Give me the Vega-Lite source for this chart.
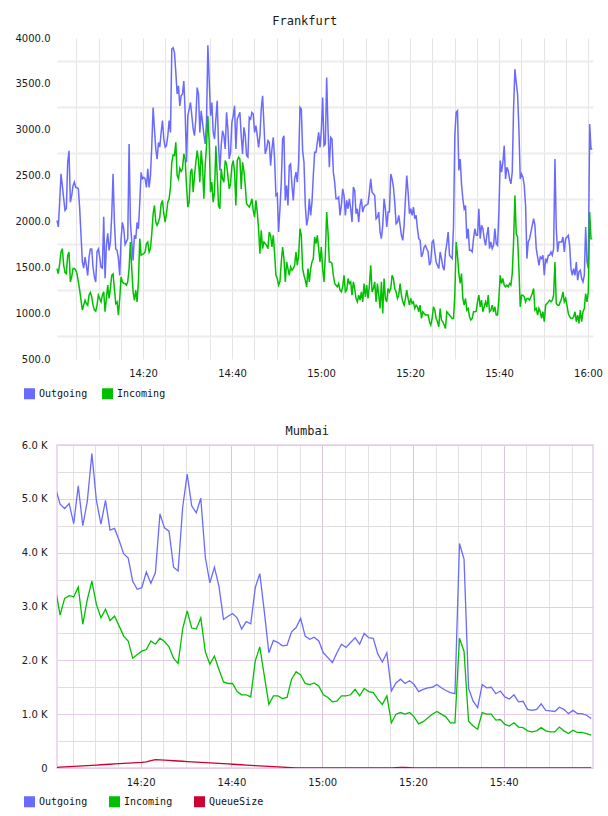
{
  "$schema": "https://vega.github.io/schema/vega-lite/v6.json",
  "background": "white",
  "padding": {"left": 15, "top": 15, "right": 7, "bottom": 5},
  "columns": 1,
  "spacing": 11,
  "resolve": {"scale": {"color": "independent"}},
  "config": {
    "view": {"stroke": null},
    "axis": {"labelFont": "DejaVu Sans", "labelFontSize": 10, "labelColor": "#1a1a1a", "ticks": false, "domain": false, "labelFlush": false, "labelOverlap": false},
    "legend": {"labelFont": "DejaVu Sans Mono", "labelFontSize": 10, "labelColor": "#111111", "symbolType": "square", "symbolSize": 4, "symbolStrokeWidth": 9, "labelOffset": 4},
    "title": {"font": "DejaVu Sans Mono", "fontSize": 12, "fontWeight": "normal", "color": "#1a1a1a", "anchor": "middle"}
  },
  "concat": [
    {
      "title": {"text": "Frankfurt", "frame": "bounds", "dx": -4, "offset": 5},
      "width": 536,
      "height": 321,
      "data": {
        "format": {"parse": {"t": "utc:'%H:%M:%S'"}},
        "values": [
          {"t":"14:00:40","Outgoing":2010,"Incoming":1486},{"t":"14:00:58","Outgoing":1940,"Incoming":1430},{"t":"14:01:16","Outgoing":2210,"Incoming":1540},{"t":"14:01:34","Outgoing":2520,"Incoming":1667},{"t":"14:01:52","Outgoing":2390,"Incoming":1703},{"t":"14:02:10","Outgoing":2250,"Incoming":1522},{"t":"14:02:28","Outgoing":2120,"Incoming":1442},{"t":"14:02:46","Outgoing":2140,"Incoming":1430},{"t":"14:03:04","Outgoing":2645,"Incoming":1630},{"t":"14:03:22","Outgoing":2770,"Incoming":1667},
          {"t":"14:03:40","Outgoing":2210,"Incoming":1341},{"t":"14:03:58","Outgoing":2280,"Incoming":1395},{"t":"14:04:16","Outgoing":2390,"Incoming":1486},{"t":"14:04:34","Outgoing":2430,"Incoming":1486},{"t":"14:04:52","Outgoing":2370,"Incoming":1468},{"t":"14:05:10","Outgoing":2370,"Incoming":1430},{"t":"14:05:28","Outgoing":2355,"Incoming":1341},{"t":"14:05:46","Outgoing":2140,"Incoming":1250},{"t":"14:06:04","Outgoing":1850,"Incoming":1140},{"t":"14:06:22","Outgoing":1560,"Incoming":1033},
          {"t":"14:06:40","Outgoing":1490,"Incoming":1087},{"t":"14:06:58","Outgoing":1610,"Incoming":1140},{"t":"14:07:16","Outgoing":1520,"Incoming":1105},{"t":"14:07:34","Outgoing":1410,"Incoming":1087},{"t":"14:07:52","Outgoing":1610,"Incoming":1196},{"t":"14:08:10","Outgoing":1700,"Incoming":1225},{"t":"14:08:28","Outgoing":1700,"Incoming":1178},{"t":"14:08:46","Outgoing":1500,"Incoming":1087},{"t":"14:09:04","Outgoing":1395,"Incoming":1033},{"t":"14:09:22","Outgoing":1340,"Incoming":1022},
          {"t":"14:09:40","Outgoing":1670,"Incoming":1087},{"t":"14:09:58","Outgoing":1700,"Incoming":1196},{"t":"14:10:16","Outgoing":1610,"Incoming":1160},{"t":"14:10:34","Outgoing":1500,"Incoming":1123},{"t":"14:10:52","Outgoing":1490,"Incoming":1196},{"t":"14:11:10","Outgoing":2050,"Incoming":1232},{"t":"14:11:28","Outgoing":1380,"Incoming":1015},{"t":"14:11:46","Outgoing":1740,"Incoming":1160},{"t":"14:12:04","Outgoing":1870,"Incoming":1305},{"t":"14:12:22","Outgoing":1685,"Incoming":1160},
          {"t":"14:12:40","Outgoing":1780,"Incoming":1268},{"t":"14:12:58","Outgoing":2065,"Incoming":1413},{"t":"14:13:16","Outgoing":2520,"Incoming":1428},{"t":"14:13:34","Outgoing":1990,"Incoming":1268},{"t":"14:13:52","Outgoing":1700,"Incoming":1105},{"t":"14:14:10","Outgoing":1685,"Incoming":1123},{"t":"14:14:28","Outgoing":1595,"Incoming":979},{"t":"14:14:46","Outgoing":1410,"Incoming":1160},{"t":"14:15:04","Outgoing":1810,"Incoming":1395},{"t":"14:15:22","Outgoing":1990,"Incoming":1341},
          {"t":"14:15:40","Outgoing":1920,"Incoming":1323},{"t":"14:15:58","Outgoing":1750,"Incoming":1323},{"t":"14:16:16","Outgoing":1780,"Incoming":1305},{"t":"14:16:34","Outgoing":1810,"Incoming":1341},{"t":"14:16:52","Outgoing":2845,"Incoming":1486},{"t":"14:17:10","Outgoing":1990,"Incoming":1776},{"t":"14:17:28","Outgoing":1780,"Incoming":1486},{"t":"14:17:46","Outgoing":1575,"Incoming":1232},{"t":"14:18:04","Outgoing":1850,"Incoming":1140},{"t":"14:18:22","Outgoing":1810,"Incoming":1250},
          {"t":"14:18:40","Outgoing":1990,"Incoming":1123},{"t":"14:18:58","Outgoing":1920,"Incoming":1341},{"t":"14:19:16","Outgoing":2210,"Incoming":1812},{"t":"14:19:34","Outgoing":2535,"Incoming":1630},{"t":"14:19:52","Outgoing":2465,"Incoming":1642},{"t":"14:20:10","Outgoing":2480,"Incoming":1649},{"t":"14:20:28","Outgoing":2465,"Incoming":1667},{"t":"14:20:46","Outgoing":2370,"Incoming":1758},{"t":"14:21:04","Outgoing":2575,"Incoming":1776},{"t":"14:21:22","Outgoing":2370,"Incoming":1667},
          {"t":"14:21:40","Outgoing":2500,"Incoming":1703},{"t":"14:21:58","Outgoing":2825,"Incoming":1866},{"t":"14:22:16","Outgoing":3243,"Incoming":2084},{"t":"14:22:34","Outgoing":3008,"Incoming":2174},{"t":"14:22:52","Outgoing":2790,"Incoming":1993},{"t":"14:23:10","Outgoing":2680,"Incoming":1957},{"t":"14:23:28","Outgoing":2860,"Incoming":1993},{"t":"14:23:46","Outgoing":2810,"Incoming":2047},{"t":"14:24:04","Outgoing":2970,"Incoming":2192},{"t":"14:24:22","Outgoing":3100,"Incoming":2229},
          {"t":"14:24:40","Outgoing":2900,"Incoming":2084},{"t":"14:24:58","Outgoing":2810,"Incoming":1993},{"t":"14:25:16","Outgoing":2825,"Incoming":2084},{"t":"14:25:34","Outgoing":2935,"Incoming":2210},{"t":"14:25:52","Outgoing":3100,"Incoming":2247},{"t":"14:26:10","Outgoing":2970,"Incoming":2374},{"t":"14:26:28","Outgoing":3880,"Incoming":2645},{"t":"14:26:46","Outgoing":3895,"Incoming":2725},{"t":"14:27:04","Outgoing":3840,"Incoming":2718},{"t":"14:27:22","Outgoing":3625,"Incoming":2863},
          {"t":"14:27:40","Outgoing":3390,"Incoming":2500},{"t":"14:27:58","Outgoing":3480,"Incoming":2464},{"t":"14:28:16","Outgoing":3260,"Incoming":2580},{"t":"14:28:34","Outgoing":3370,"Incoming":2544},{"t":"14:28:52","Outgoing":3390,"Incoming":2573},{"t":"14:29:10","Outgoing":3530,"Incoming":2736},{"t":"14:29:28","Outgoing":3190,"Incoming":2682},{"t":"14:29:46","Outgoing":2645,"Incoming":2392},{"t":"14:30:04","Outgoing":3150,"Incoming":2156},{"t":"14:30:22","Outgoing":3225,"Incoming":2210},
          {"t":"14:30:40","Outgoing":3297,"Incoming":2537},{"t":"14:30:58","Outgoing":3152,"Incoming":2573},{"t":"14:31:16","Outgoing":3008,"Incoming":2319},{"t":"14:31:34","Outgoing":2935,"Incoming":2500},{"t":"14:31:52","Outgoing":3116,"Incoming":2645},{"t":"14:32:10","Outgoing":3460,"Incoming":2772},{"t":"14:32:28","Outgoing":3388,"Incoming":2663},{"t":"14:32:46","Outgoing":2971,"Incoming":2428},{"t":"14:33:04","Outgoing":3207,"Incoming":2772},{"t":"14:33:22","Outgoing":3080,"Incoming":2609},
          {"t":"14:33:40","Outgoing":2953,"Incoming":2247},{"t":"14:33:58","Outgoing":2844,"Incoming":2609},{"t":"14:34:16","Outgoing":3080,"Incoming":2826},{"t":"14:34:34","Outgoing":3920,"Incoming":3152},{"t":"14:34:52","Outgoing":3551,"Incoming":2863},{"t":"14:35:10","Outgoing":3152,"Incoming":2319},{"t":"14:35:28","Outgoing":3297,"Incoming":2428},{"t":"14:35:46","Outgoing":2971,"Incoming":2210},{"t":"14:36:04","Outgoing":2899,"Incoming":2319},{"t":"14:36:22","Outgoing":3116,"Incoming":2826},
          {"t":"14:36:40","Outgoing":3315,"Incoming":2500},{"t":"14:36:58","Outgoing":2826,"Incoming":2174},{"t":"14:37:16","Outgoing":2555,"Incoming":2138},{"t":"14:37:34","Outgoing":2826,"Incoming":2573},{"t":"14:37:52","Outgoing":2989,"Incoming":2464},{"t":"14:38:10","Outgoing":2935,"Incoming":2428},{"t":"14:38:28","Outgoing":2790,"Incoming":2663},{"t":"14:38:46","Outgoing":3189,"Incoming":2627},{"t":"14:39:04","Outgoing":3008,"Incoming":2500},{"t":"14:39:22","Outgoing":2681,"Incoming":2355},
          {"t":"14:39:40","Outgoing":2754,"Incoming":2410},{"t":"14:39:58","Outgoing":3080,"Incoming":2609},{"t":"14:40:16","Outgoing":3152,"Incoming":2663},{"t":"14:40:34","Outgoing":3261,"Incoming":2537},{"t":"14:40:52","Outgoing":2790,"Incoming":2174},{"t":"14:41:10","Outgoing":3116,"Incoming":2663},{"t":"14:41:28","Outgoing":3152,"Incoming":2700},{"t":"14:41:46","Outgoing":3189,"Incoming":2681},{"t":"14:42:04","Outgoing":2935,"Incoming":2355},{"t":"14:42:22","Outgoing":2736,"Incoming":2645},
          {"t":"14:42:40","Outgoing":3026,"Incoming":2555},{"t":"14:42:58","Outgoing":2935,"Incoming":2392},{"t":"14:43:16","Outgoing":2718,"Incoming":2192},{"t":"14:43:34","Outgoing":2700,"Incoming":2174},{"t":"14:43:52","Outgoing":3134,"Incoming":2156},{"t":"14:44:10","Outgoing":3116,"Incoming":2192},{"t":"14:44:28","Outgoing":3189,"Incoming":2247},{"t":"14:44:46","Outgoing":3171,"Incoming":2120},{"t":"14:45:04","Outgoing":2971,"Incoming":2047},{"t":"14:45:22","Outgoing":3044,"Incoming":2229},
          {"t":"14:45:40","Outgoing":2935,"Incoming":2102},{"t":"14:45:58","Outgoing":2808,"Incoming":1921},{"t":"14:46:16","Outgoing":2935,"Incoming":1649},{"t":"14:46:34","Outgoing":3225,"Incoming":1902},{"t":"14:46:52","Outgoing":3370,"Incoming":1703},{"t":"14:47:10","Outgoing":3062,"Incoming":1776},{"t":"14:47:28","Outgoing":2736,"Incoming":1758},{"t":"14:47:46","Outgoing":2790,"Incoming":1739},{"t":"14:48:04","Outgoing":2881,"Incoming":1703},{"t":"14:48:22","Outgoing":2863,"Incoming":1884},
          {"t":"14:48:40","Outgoing":2609,"Incoming":1848},{"t":"14:48:58","Outgoing":2790,"Incoming":1721},{"t":"14:49:16","Outgoing":2917,"Incoming":1848},{"t":"14:49:34","Outgoing":2681,"Incoming":1649},{"t":"14:49:52","Outgoing":2283,"Incoming":1413},{"t":"14:50:10","Outgoing":2301,"Incoming":1377},{"t":"14:50:28","Outgoing":1884,"Incoming":1305},{"t":"14:50:46","Outgoing":2138,"Incoming":1341},{"t":"14:51:04","Outgoing":2428,"Incoming":1558},{"t":"14:51:22","Outgoing":2899,"Incoming":1721},
          {"t":"14:51:40","Outgoing":2935,"Incoming":1595},{"t":"14:51:58","Outgoing":2229,"Incoming":1341},{"t":"14:52:16","Outgoing":2392,"Incoming":1558},{"t":"14:52:34","Outgoing":2174,"Incoming":1486},{"t":"14:52:52","Outgoing":2609,"Incoming":1413},{"t":"14:53:10","Outgoing":2627,"Incoming":1504},{"t":"14:53:28","Outgoing":2392,"Incoming":1468},{"t":"14:53:46","Outgoing":2229,"Incoming":1486},{"t":"14:54:04","Outgoing":2464,"Incoming":1522},{"t":"14:54:22","Outgoing":2537,"Incoming":1667},
          {"t":"14:54:40","Outgoing":2428,"Incoming":1522},{"t":"14:54:58","Outgoing":2645,"Incoming":1631},{"t":"14:55:16","Outgoing":3243,"Incoming":1921},{"t":"14:55:34","Outgoing":3225,"Incoming":1848},{"t":"14:55:52","Outgoing":2772,"Incoming":1486},{"t":"14:56:10","Outgoing":2645,"Incoming":1413},{"t":"14:56:28","Outgoing":2174,"Incoming":1359},{"t":"14:56:46","Outgoing":1957,"Incoming":1287},{"t":"14:57:04","Outgoing":2029,"Incoming":1486},{"t":"14:57:22","Outgoing":2247,"Incoming":1341},
          {"t":"14:57:40","Outgoing":2066,"Incoming":1486},{"t":"14:57:58","Outgoing":2210,"Incoming":1558},{"t":"14:58:16","Outgoing":2500,"Incoming":1595},{"t":"14:58:34","Outgoing":2754,"Incoming":1830},{"t":"14:58:52","Outgoing":2754,"Incoming":1758},{"t":"14:59:10","Outgoing":2863,"Incoming":1848},{"t":"14:59:28","Outgoing":2971,"Incoming":1703},{"t":"14:59:46","Outgoing":2808,"Incoming":1558},{"t":"15:00:04","Outgoing":2989,"Incoming":1721},{"t":"15:00:22","Outgoing":3352,"Incoming":1486},
          {"t":"15:00:40","Outgoing":2826,"Incoming":1341},{"t":"15:00:58","Outgoing":2844,"Incoming":1631},{"t":"15:01:16","Outgoing":3569,"Incoming":2102},{"t":"15:01:34","Outgoing":3008,"Incoming":1884},{"t":"15:01:52","Outgoing":2591,"Incoming":1558},{"t":"15:02:10","Outgoing":2917,"Incoming":1558},{"t":"15:02:28","Outgoing":2899,"Incoming":1540},{"t":"15:02:46","Outgoing":2537,"Incoming":1413},{"t":"15:03:04","Outgoing":2428,"Incoming":1323},{"t":"15:03:22","Outgoing":2247,"Incoming":1305},
          {"t":"15:03:40","Outgoing":2247,"Incoming":1287},{"t":"15:03:58","Outgoing":2265,"Incoming":1323},{"t":"15:04:16","Outgoing":2066,"Incoming":1250},{"t":"15:04:34","Outgoing":2174,"Incoming":1232},{"t":"15:04:52","Outgoing":2355,"Incoming":1287},{"t":"15:05:10","Outgoing":2283,"Incoming":1413},{"t":"15:05:28","Outgoing":2066,"Incoming":1232},{"t":"15:05:46","Outgoing":2229,"Incoming":1250},{"t":"15:06:04","Outgoing":2138,"Incoming":1377},{"t":"15:06:22","Outgoing":2247,"Incoming":1323},
          {"t":"15:06:40","Outgoing":2138,"Incoming":1341},{"t":"15:06:58","Outgoing":1993,"Incoming":1196},{"t":"15:07:16","Outgoing":2374,"Incoming":1341},{"t":"15:07:34","Outgoing":2337,"Incoming":1268},{"t":"15:07:52","Outgoing":2084,"Incoming":1160},{"t":"15:08:10","Outgoing":2138,"Incoming":1123},{"t":"15:08:28","Outgoing":1993,"Incoming":1196},{"t":"15:08:46","Outgoing":2174,"Incoming":1142},{"t":"15:09:04","Outgoing":2247,"Incoming":1232},{"t":"15:09:22","Outgoing":2102,"Incoming":1123},
          {"t":"15:09:40","Outgoing":2156,"Incoming":1323},{"t":"15:09:58","Outgoing":2174,"Incoming":1178},{"t":"15:10:16","Outgoing":2181,"Incoming":1305},{"t":"15:10:34","Outgoing":2192,"Incoming":1160},{"t":"15:10:52","Outgoing":2319,"Incoming":1305},{"t":"15:11:10","Outgoing":2464,"Incoming":1522},{"t":"15:11:28","Outgoing":2319,"Incoming":1232},{"t":"15:11:46","Outgoing":2301,"Incoming":1268},{"t":"15:12:04","Outgoing":2283,"Incoming":1341},{"t":"15:12:22","Outgoing":2029,"Incoming":1123},
          {"t":"15:12:40","Outgoing":2047,"Incoming":1323},{"t":"15:12:58","Outgoing":2102,"Incoming":1196},{"t":"15:13:16","Outgoing":1884,"Incoming":1051},{"t":"15:13:34","Outgoing":1812,"Incoming":1341},{"t":"15:13:52","Outgoing":1957,"Incoming":997},{"t":"15:14:10","Outgoing":2247,"Incoming":1377},{"t":"15:14:28","Outgoing":2138,"Incoming":1160},{"t":"15:14:46","Outgoing":1939,"Incoming":1123},{"t":"15:15:04","Outgoing":2102,"Incoming":1268},{"t":"15:15:22","Outgoing":2102,"Incoming":1232},
          {"t":"15:15:40","Outgoing":2518,"Incoming":1268},{"t":"15:15:58","Outgoing":2464,"Incoming":1413},{"t":"15:16:16","Outgoing":2374,"Incoming":1377},{"t":"15:16:34","Outgoing":2210,"Incoming":1268},{"t":"15:16:52","Outgoing":1975,"Incoming":1232},{"t":"15:17:10","Outgoing":1993,"Incoming":1160},{"t":"15:17:28","Outgoing":2066,"Incoming":1196},{"t":"15:17:46","Outgoing":1957,"Incoming":1323},{"t":"15:18:04","Outgoing":1848,"Incoming":1196},{"t":"15:18:22","Outgoing":1794,"Incoming":1123},
          {"t":"15:18:40","Outgoing":1957,"Incoming":1087},{"t":"15:18:58","Outgoing":2247,"Incoming":1160},{"t":"15:19:16","Outgoing":2500,"Incoming":1250},{"t":"15:19:34","Outgoing":2319,"Incoming":1160},{"t":"15:19:52","Outgoing":2084,"Incoming":1087},{"t":"15:20:10","Outgoing":2138,"Incoming":1160},{"t":"15:20:28","Outgoing":2066,"Incoming":1105},{"t":"15:20:46","Outgoing":2156,"Incoming":1123},{"t":"15:21:04","Outgoing":2029,"Incoming":1051},{"t":"15:21:22","Outgoing":2066,"Incoming":1087},
          {"t":"15:21:40","Outgoing":1921,"Incoming":1069},{"t":"15:21:58","Outgoing":1812,"Incoming":1015},{"t":"15:22:16","Outgoing":1794,"Incoming":1087},{"t":"15:22:34","Outgoing":1613,"Incoming":942},{"t":"15:22:52","Outgoing":1649,"Incoming":1015},{"t":"15:23:10","Outgoing":1721,"Incoming":997},{"t":"15:23:28","Outgoing":1739,"Incoming":979},{"t":"15:23:46","Outgoing":1703,"Incoming":979},{"t":"15:24:04","Outgoing":1667,"Incoming":979},{"t":"15:24:22","Outgoing":1522,"Incoming":906},
          {"t":"15:24:40","Outgoing":1558,"Incoming":870},{"t":"15:24:58","Outgoing":1776,"Incoming":942},{"t":"15:25:16","Outgoing":1794,"Incoming":1069},{"t":"15:25:34","Outgoing":1667,"Incoming":1033},{"t":"15:25:52","Outgoing":1558,"Incoming":942},{"t":"15:26:10","Outgoing":1522,"Incoming":906},{"t":"15:26:28","Outgoing":1486,"Incoming":852},{"t":"15:26:46","Outgoing":1667,"Incoming":1051},{"t":"15:27:04","Outgoing":1595,"Incoming":924},{"t":"15:27:22","Outgoing":1504,"Incoming":906},
          {"t":"15:27:40","Outgoing":1468,"Incoming":870},{"t":"15:27:58","Outgoing":1667,"Incoming":834},{"t":"15:28:16","Outgoing":1758,"Incoming":1015},{"t":"15:28:34","Outgoing":1884,"Incoming":997},{"t":"15:28:52","Outgoing":1631,"Incoming":979},{"t":"15:29:10","Outgoing":1613,"Incoming":961},{"t":"15:29:28","Outgoing":1595,"Incoming":942},{"t":"15:29:46","Outgoing":1939,"Incoming":942},{"t":"15:30:04","Outgoing":2935,"Incoming":1196},{"t":"15:30:22","Outgoing":3189,"Incoming":1776},
          {"t":"15:30:40","Outgoing":3207,"Incoming":1631},{"t":"15:30:58","Outgoing":2555,"Incoming":1431},{"t":"15:31:16","Outgoing":2681,"Incoming":1323},{"t":"15:31:34","Outgoing":2410,"Incoming":1431},{"t":"15:31:52","Outgoing":2247,"Incoming":1160},{"t":"15:32:10","Outgoing":2138,"Incoming":1087},{"t":"15:32:28","Outgoing":2174,"Incoming":1160},{"t":"15:32:46","Outgoing":1812,"Incoming":1033},{"t":"15:33:04","Outgoing":1921,"Incoming":1051},{"t":"15:33:22","Outgoing":1685,"Incoming":961},
          {"t":"15:33:40","Outgoing":1685,"Incoming":924},{"t":"15:33:58","Outgoing":1667,"Incoming":942},{"t":"15:34:16","Outgoing":1812,"Incoming":1015},{"t":"15:34:34","Outgoing":1921,"Incoming":1015},{"t":"15:34:52","Outgoing":1848,"Incoming":1022},{"t":"15:35:10","Outgoing":1848,"Incoming":1123},{"t":"15:35:28","Outgoing":2138,"Incoming":1196},{"t":"15:35:46","Outgoing":1812,"Incoming":1069},{"t":"15:36:04","Outgoing":1957,"Incoming":1142},{"t":"15:36:22","Outgoing":1921,"Incoming":1015},
          {"t":"15:36:40","Outgoing":1812,"Incoming":1069},{"t":"15:36:58","Outgoing":1739,"Incoming":1123},{"t":"15:37:16","Outgoing":1848,"Incoming":1069},{"t":"15:37:34","Outgoing":1939,"Incoming":1196},{"t":"15:37:52","Outgoing":1703,"Incoming":1015},{"t":"15:38:10","Outgoing":1776,"Incoming":1033},{"t":"15:38:28","Outgoing":1703,"Incoming":1087},{"t":"15:38:46","Outgoing":1739,"Incoming":1015},{"t":"15:39:04","Outgoing":1921,"Incoming":1069},{"t":"15:39:22","Outgoing":1758,"Incoming":979},
          {"t":"15:39:40","Outgoing":1739,"Incoming":979},{"t":"15:39:58","Outgoing":2102,"Incoming":1160},{"t":"15:40:16","Outgoing":2663,"Incoming":1413},{"t":"15:40:34","Outgoing":2537,"Incoming":1323},{"t":"15:40:52","Outgoing":2645,"Incoming":1377},{"t":"15:41:10","Outgoing":2826,"Incoming":1305},{"t":"15:41:28","Outgoing":2464,"Incoming":1287},{"t":"15:41:46","Outgoing":2591,"Incoming":1305},{"t":"15:42:04","Outgoing":2555,"Incoming":1287},{"t":"15:42:22","Outgoing":2464,"Incoming":1323},
          {"t":"15:42:40","Outgoing":2410,"Incoming":1305},{"t":"15:42:58","Outgoing":2537,"Incoming":1431},{"t":"15:43:16","Outgoing":3225,"Incoming":1776},{"t":"15:43:34","Outgoing":3660,"Incoming":2283},{"t":"15:43:52","Outgoing":3515,"Incoming":1866},{"t":"15:44:10","Outgoing":3388,"Incoming":1830},{"t":"15:44:28","Outgoing":3008,"Incoming":1486},{"t":"15:44:46","Outgoing":2464,"Incoming":1069},{"t":"15:45:04","Outgoing":2518,"Incoming":1196},{"t":"15:45:22","Outgoing":2482,"Incoming":1196},
          {"t":"15:45:40","Outgoing":2392,"Incoming":1178},{"t":"15:45:58","Outgoing":2174,"Incoming":1123},{"t":"15:46:16","Outgoing":1595,"Incoming":1160},{"t":"15:46:34","Outgoing":1776,"Incoming":1160},{"t":"15:46:52","Outgoing":1812,"Incoming":1142},{"t":"15:47:10","Outgoing":1884,"Incoming":1178},{"t":"15:47:28","Outgoing":1957,"Incoming":1214},{"t":"15:47:46","Outgoing":2029,"Incoming":1268},{"t":"15:48:04","Outgoing":1957,"Incoming":1033},{"t":"15:48:22","Outgoing":1703,"Incoming":1051},
          {"t":"15:48:40","Outgoing":1613,"Incoming":979},{"t":"15:48:58","Outgoing":1522,"Incoming":1051},{"t":"15:49:16","Outgoing":1613,"Incoming":1015},{"t":"15:49:34","Outgoing":1595,"Incoming":942},{"t":"15:49:52","Outgoing":1631,"Incoming":1015},{"t":"15:50:10","Outgoing":1413,"Incoming":906},{"t":"15:50:28","Outgoing":1595,"Incoming":1087},{"t":"15:50:46","Outgoing":1558,"Incoming":1105},{"t":"15:51:04","Outgoing":1631,"Incoming":1123},{"t":"15:51:22","Outgoing":1631,"Incoming":1142},
          {"t":"15:51:40","Outgoing":1667,"Incoming":1123},{"t":"15:51:58","Outgoing":1631,"Incoming":1142},{"t":"15:52:16","Outgoing":1703,"Incoming":1196},{"t":"15:52:34","Outgoing":2681,"Incoming":1558},{"t":"15:52:52","Outgoing":1921,"Incoming":1105},{"t":"15:53:10","Outgoing":1667,"Incoming":1087},{"t":"15:53:28","Outgoing":1776,"Incoming":1087},{"t":"15:53:46","Outgoing":1776,"Incoming":1123},{"t":"15:54:04","Outgoing":1776,"Incoming":1160},{"t":"15:54:22","Outgoing":1830,"Incoming":1232},
          {"t":"15:54:40","Outgoing":1667,"Incoming":1123},{"t":"15:54:58","Outgoing":1812,"Incoming":1160},{"t":"15:55:16","Outgoing":1830,"Incoming":1087},{"t":"15:55:34","Outgoing":1848,"Incoming":997},{"t":"15:55:52","Outgoing":1739,"Incoming":961},{"t":"15:56:10","Outgoing":1486,"Incoming":942},{"t":"15:56:28","Outgoing":1413,"Incoming":942},{"t":"15:56:46","Outgoing":1486,"Incoming":961},{"t":"15:57:04","Outgoing":1413,"Incoming":1015},{"t":"15:57:22","Outgoing":1558,"Incoming":906},
          {"t":"15:57:40","Outgoing":1359,"Incoming":979},{"t":"15:57:58","Outgoing":1450,"Incoming":888},{"t":"15:58:16","Outgoing":1468,"Incoming":1033},{"t":"15:58:34","Outgoing":1377,"Incoming":906},{"t":"15:58:52","Outgoing":1341,"Incoming":1015},{"t":"15:59:10","Outgoing":1413,"Incoming":1051},{"t":"15:59:28","Outgoing":1939,"Incoming":1214},{"t":"15:59:46","Outgoing":1558,"Incoming":1123},{"t":"16:00:04","Outgoing":1486,"Incoming":1232},{"t":"16:00:22","Outgoing":3062,"Incoming":2102},
          {"t":"16:00:40","Outgoing":2790,"Incoming":1812},{"t":"16:00:58","Outgoing":2790,"Incoming":1812}
        ]
      },
      "transform": [{"fold": ["Outgoing", "Incoming"], "as": ["series", "value"]}],
      "mark": {"type": "line", "strokeWidth": 1.5},
      "encoding": {
        "x": {
          "field": "t", "type": "temporal", "title": null,
          "scale": {"type": "utc", "nice": false, "domain": [-2208938360000, -2208931133000]},
          "axis": {
            "values": [-2208938100000, -2208937800000, -2208937500000, -2208937200000, -2208936900000, -2208936600000, -2208936300000, -2208936000000, -2208935700000, -2208935400000, -2208935100000, -2208934800000, -2208934500000, -2208934200000, -2208933900000, -2208933600000, -2208933300000, -2208933000000, -2208932700000, -2208932400000, -2208932100000, -2208931800000, -2208931500000, -2208931200000],
            "labelExpr": "utcminutes(datum.value) % 20 ? '' : utcFormat(datum.value, '%H:%M')",
            "gridColor": "#e4e4e4", "gridWidth": 1, "labelPadding": 9
          }
        },
        "y": {
          "field": "value", "type": "quantitative", "title": null,
          "scale": {"domain": [500, 4000], "nice": false, "zero": false},
          "axis": {
            "values": [500, 750, 1000, 1250, 1500, 1750, 2000, 2250, 2500, 2750, 3000, 3250, 3500, 3750, 4000],
            "labelExpr": "datum.value % 500 ? '' : format(datum.value, '.1f')",
            "gridColor": "#ececec", "gridWidth": 2,
            "gridOpacity": {"condition": {"test": "datum.value % 500 == 0", "value": 0}, "value": 1},
            "labelPadding": 7
          }
        },
        "color": {
          "field": "series", "type": "nominal",
          "scale": {"domain": ["Outgoing", "Incoming"], "range": ["#6a6aff", "#00c000"]},
          "legend": {
            "title": null, "orient": "none", "legendX": -33, "legendY": 350, "direction": "horizontal", "columnPadding": 0
          }
        }
      }
    },
    {
      "title": {"text": "Mumbai", "frame": "bounds", "offset": 2},
      "width": 536,
      "height": 323,
      "view": {"stroke": "#e6d0e6", "strokeWidth": 1.5},
      "data": {
        "format": {"parse": {"t": "utc:'%H:%M:%S'"}},
        "values": [
          {"t":"14:00:15","Outgoing":4970,"Incoming":3070,"QueueSize":0},{"t":"14:01:15","Outgoing":5200,"Incoming":3320,"QueueSize":10},{"t":"14:02:15","Outgoing":4900,"Incoming":2840,"QueueSize":15},{"t":"14:03:15","Outgoing":4820,"Incoming":3150,"QueueSize":20},{"t":"14:04:15","Outgoing":4910,"Incoming":3200,"QueueSize":25},{"t":"14:05:15","Outgoing":4540,"Incoming":3180,"QueueSize":30},{"t":"14:06:15","Outgoing":5240,"Incoming":3360,"QueueSize":35},{"t":"14:07:15","Outgoing":4500,"Incoming":2670,"QueueSize":40},{"t":"14:08:15","Outgoing":4960,"Incoming":3130,"QueueSize":45},{"t":"14:09:15","Outgoing":5840,"Incoming":3470,"QueueSize":50},
          {"t":"14:10:15","Outgoing":4970,"Incoming":3040,"QueueSize":55},{"t":"14:11:15","Outgoing":4530,"Incoming":2790,"QueueSize":60},{"t":"14:12:15","Outgoing":4970,"Incoming":2950,"QueueSize":65},{"t":"14:13:15","Outgoing":4420,"Incoming":2740,"QueueSize":70},{"t":"14:14:15","Outgoing":4450,"Incoming":2820,"QueueSize":75},{"t":"14:15:15","Outgoing":4230,"Incoming":2640,"QueueSize":80},{"t":"14:16:15","Outgoing":3980,"Incoming":2450,"QueueSize":85},{"t":"14:17:15","Outgoing":3900,"Incoming":2360,"QueueSize":90},{"t":"14:18:15","Outgoing":3470,"Incoming":2040,"QueueSize":95},{"t":"14:19:15","Outgoing":3320,"Incoming":2110,"QueueSize":100},
          {"t":"14:20:15","Outgoing":3350,"Incoming":2170,"QueueSize":105},{"t":"14:21:15","Outgoing":3640,"Incoming":2200,"QueueSize":115},{"t":"14:22:15","Outgoing":3430,"Incoming":2360,"QueueSize":135},{"t":"14:23:15","Outgoing":3630,"Incoming":2300,"QueueSize":155},{"t":"14:24:15","Outgoing":4720,"Incoming":2410,"QueueSize":150},{"t":"14:25:15","Outgoing":4460,"Incoming":2350,"QueueSize":145},{"t":"14:26:15","Outgoing":4400,"Incoming":2250,"QueueSize":140},{"t":"14:27:15","Outgoing":3730,"Incoming":2040,"QueueSize":135},{"t":"14:28:15","Outgoing":3660,"Incoming":1940,"QueueSize":130},{"t":"14:29:15","Outgoing":4840,"Incoming":2580,"QueueSize":125},
          {"t":"14:30:15","Outgoing":5460,"Incoming":2920,"QueueSize":120},{"t":"14:31:15","Outgoing":4870,"Incoming":2600,"QueueSize":115},{"t":"14:32:15","Outgoing":4740,"Incoming":2580,"QueueSize":110},{"t":"14:33:15","Outgoing":5010,"Incoming":2790,"QueueSize":105},{"t":"14:34:15","Outgoing":3910,"Incoming":2160,"QueueSize":100},{"t":"14:35:15","Outgoing":3440,"Incoming":1930,"QueueSize":95},{"t":"14:36:15","Outgoing":3730,"Incoming":2080,"QueueSize":90},{"t":"14:37:15","Outgoing":3380,"Incoming":1830,"QueueSize":85},{"t":"14:38:15","Outgoing":2760,"Incoming":1600,"QueueSize":80},{"t":"14:39:15","Outgoing":2820,"Incoming":1570,"QueueSize":75},
          {"t":"14:40:15","Outgoing":2870,"Incoming":1570,"QueueSize":70},{"t":"14:41:15","Outgoing":2790,"Incoming":1420,"QueueSize":65},{"t":"14:42:15","Outgoing":2580,"Incoming":1360,"QueueSize":60},{"t":"14:43:15","Outgoing":2720,"Incoming":1360,"QueueSize":55},{"t":"14:44:15","Outgoing":2680,"Incoming":1320,"QueueSize":50},{"t":"14:45:15","Outgoing":3350,"Incoming":1990,"QueueSize":45},{"t":"14:46:15","Outgoing":3610,"Incoming":2250,"QueueSize":40},{"t":"14:47:15","Outgoing":2900,"Incoming":1710,"QueueSize":35},{"t":"14:48:15","Outgoing":2140,"Incoming":1180,"QueueSize":30},{"t":"14:49:15","Outgoing":2370,"Incoming":1340,"QueueSize":25},
          {"t":"14:50:15","Outgoing":2330,"Incoming":1340,"QueueSize":20},{"t":"14:51:15","Outgoing":2270,"Incoming":1290,"QueueSize":15},{"t":"14:52:15","Outgoing":2280,"Incoming":1310,"QueueSize":10},{"t":"14:53:15","Outgoing":2530,"Incoming":1650,"QueueSize":5},{"t":"14:54:15","Outgoing":2610,"Incoming":1790,"QueueSize":0},{"t":"14:55:15","Outgoing":2780,"Incoming":1730,"QueueSize":0},{"t":"14:56:15","Outgoing":2450,"Incoming":1570,"QueueSize":0},{"t":"14:57:15","Outgoing":2390,"Incoming":1550,"QueueSize":0},{"t":"14:58:15","Outgoing":2430,"Incoming":1580,"QueueSize":0},{"t":"14:59:15","Outgoing":2360,"Incoming":1520,"QueueSize":0},
          {"t":"15:00:15","Outgoing":2140,"Incoming":1360,"QueueSize":0},{"t":"15:01:15","Outgoing":2050,"Incoming":1310,"QueueSize":0},{"t":"15:02:15","Outgoing":1960,"Incoming":1230,"QueueSize":0},{"t":"15:03:15","Outgoing":2140,"Incoming":1240,"QueueSize":0},{"t":"15:04:15","Outgoing":2300,"Incoming":1340,"QueueSize":0},{"t":"15:05:15","Outgoing":2240,"Incoming":1340,"QueueSize":0},{"t":"15:06:15","Outgoing":2330,"Incoming":1360,"QueueSize":0},{"t":"15:07:15","Outgoing":2420,"Incoming":1460,"QueueSize":0},{"t":"15:08:15","Outgoing":2300,"Incoming":1340,"QueueSize":0},{"t":"15:09:15","Outgoing":2500,"Incoming":1480,"QueueSize":0},
          {"t":"15:10:15","Outgoing":2420,"Incoming":1420,"QueueSize":0},{"t":"15:11:15","Outgoing":2410,"Incoming":1400,"QueueSize":0},{"t":"15:12:15","Outgoing":2120,"Incoming":1280,"QueueSize":0},{"t":"15:13:15","Outgoing":1970,"Incoming":1180,"QueueSize":0},{"t":"15:14:15","Outgoing":2140,"Incoming":1340,"QueueSize":0},{"t":"15:15:15","Outgoing":1430,"Incoming":840,"QueueSize":0},{"t":"15:16:15","Outgoing":1580,"Incoming":1000,"QueueSize":5},{"t":"15:17:15","Outgoing":1650,"Incoming":1030,"QueueSize":10},{"t":"15:18:15","Outgoing":1570,"Incoming":1000,"QueueSize":10},{"t":"15:19:15","Outgoing":1620,"Incoming":1030,"QueueSize":5},
          {"t":"15:20:15","Outgoing":1550,"Incoming":950,"QueueSize":0},{"t":"15:21:15","Outgoing":1420,"Incoming":820,"QueueSize":0},{"t":"15:22:15","Outgoing":1460,"Incoming":860,"QueueSize":0},{"t":"15:23:15","Outgoing":1490,"Incoming":930,"QueueSize":0},{"t":"15:24:15","Outgoing":1500,"Incoming":1000,"QueueSize":0},{"t":"15:25:15","Outgoing":1550,"Incoming":1050,"QueueSize":0},{"t":"15:26:15","Outgoing":1490,"Incoming":1000,"QueueSize":0},{"t":"15:27:15","Outgoing":1440,"Incoming":950,"QueueSize":0},{"t":"15:28:15","Outgoing":1400,"Incoming":840,"QueueSize":0},{"t":"15:29:15","Outgoing":1380,"Incoming":840,"QueueSize":0},
          {"t":"15:30:15","Outgoing":4170,"Incoming":2410,"QueueSize":0},{"t":"15:31:15","Outgoing":3880,"Incoming":2170,"QueueSize":0},{"t":"15:32:15","Outgoing":1480,"Incoming":870,"QueueSize":0},{"t":"15:33:15","Outgoing":1240,"Incoming":780,"QueueSize":0},{"t":"15:34:15","Outgoing":1120,"Incoming":720,"QueueSize":0},{"t":"15:35:15","Outgoing":1550,"Incoming":1030,"QueueSize":0},{"t":"15:36:15","Outgoing":1490,"Incoming":1000,"QueueSize":0},{"t":"15:37:15","Outgoing":1500,"Incoming":1000,"QueueSize":0},{"t":"15:38:15","Outgoing":1380,"Incoming":890,"QueueSize":0},{"t":"15:39:15","Outgoing":1430,"Incoming":900,"QueueSize":0},
          {"t":"15:40:15","Outgoing":1320,"Incoming":810,"QueueSize":0},{"t":"15:41:15","Outgoing":1280,"Incoming":780,"QueueSize":0},{"t":"15:42:15","Outgoing":1360,"Incoming":840,"QueueSize":0},{"t":"15:43:15","Outgoing":1230,"Incoming":760,"QueueSize":0},{"t":"15:44:15","Outgoing":1240,"Incoming":750,"QueueSize":0},{"t":"15:45:15","Outgoing":1090,"Incoming":690,"QueueSize":0},{"t":"15:46:15","Outgoing":1070,"Incoming":670,"QueueSize":0},{"t":"15:47:15","Outgoing":1090,"Incoming":690,"QueueSize":0},{"t":"15:48:15","Outgoing":1190,"Incoming":750,"QueueSize":0},{"t":"15:49:15","Outgoing":1070,"Incoming":690,"QueueSize":0},
          {"t":"15:50:15","Outgoing":1060,"Incoming":670,"QueueSize":0},{"t":"15:51:15","Outgoing":1050,"Incoming":670,"QueueSize":0},{"t":"15:52:15","Outgoing":1130,"Incoming":760,"QueueSize":0},{"t":"15:53:15","Outgoing":1090,"Incoming":690,"QueueSize":0},{"t":"15:54:15","Outgoing":1010,"Incoming":640,"QueueSize":0},{"t":"15:55:15","Outgoing":1070,"Incoming":700,"QueueSize":0},{"t":"15:56:15","Outgoing":1010,"Incoming":660,"QueueSize":0},{"t":"15:57:15","Outgoing":1010,"Incoming":660,"QueueSize":0},{"t":"15:58:15","Outgoing":980,"Incoming":640,"QueueSize":0},{"t":"15:59:15","Outgoing":920,"Incoming":610,"QueueSize":0}
        ]
      },
      "transform": [{"fold": ["Outgoing", "Incoming", "QueueSize"], "as": ["series", "value"]}],
      "mark": {"type": "line", "strokeWidth": 1.3, "clip": true},
      "encoding": {
        "x": {
          "field": "t", "type": "temporal", "title": null,
          "scale": {"type": "utc", "nice": false, "domain": [-2208938306000, -2208931220000]},
          "axis": {
            "values": [-2208938100000, -2208937800000, -2208937500000, -2208937200000, -2208936900000, -2208936600000, -2208936300000, -2208936000000, -2208935700000, -2208935400000, -2208935100000, -2208934800000, -2208934500000, -2208934200000, -2208933900000, -2208933600000, -2208933300000, -2208933000000, -2208932700000, -2208932400000, -2208932100000, -2208931800000, -2208931500000],
            "labelExpr": "utcminutes(datum.value) % 20 ? '' : utcFormat(datum.value, '%H:%M')",
            "gridColor": {"condition": {"test": "utcminutes(datum.value) % 20 == 0", "value": "#dcc4dc"}, "value": "#e2e2e2"},
            "gridWidth": 1, "labelPadding": 9
          }
        },
        "y": {
          "field": "value", "type": "quantitative", "title": null,
          "scale": {"domain": [0, 6000], "nice": false},
          "axis": {
            "values": [0, 500, 1000, 1500, 2000, 2500, 3000, 3500, 4000, 4500, 5000, 5500, 6000],
            "labelExpr": "datum.value % 1000 ? '' : (datum.value == 0 ? '0' : format(datum.value / 1000, '.1f') + ' K')",
            "gridColor": {"condition": {"test": "datum.value % 1000 == 0", "value": "#e4cce4"}, "value": "#dedede"},
            "gridWidth": 1, "labelPadding": 10
          }
        },
        "color": {
          "field": "series", "type": "nominal",
          "scale": {"domain": ["Outgoing", "Incoming", "QueueSize"], "range": ["#6a6aff", "#00c000", "#cc0033"]},
          "legend": {
            "title": null, "orient": "none", "legendX": -33, "legendY": 351, "direction": "horizontal", "columnPadding": 7
          }
        }
      }
    }
  ]
}
